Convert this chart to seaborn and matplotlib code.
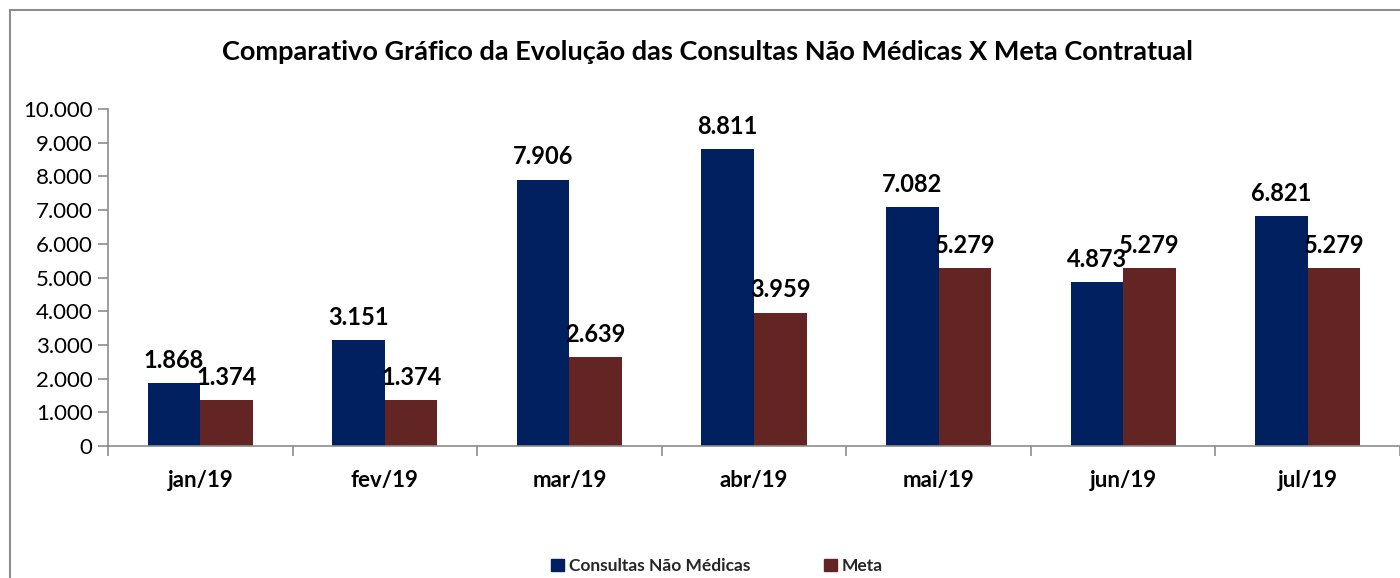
import matplotlib
matplotlib.use("Agg")
import matplotlib.pyplot as plt
import seaborn as sns
import pandas as pd
from matplotlib.ticker import FuncFormatter, FixedLocator
from matplotlib.patches import Rectangle

months = ["jan/19", "fev/19", "mar/19", "abr/19", "mai/19", "jun/19", "jul/19"]
consultas = [1868, 3151, 7906, 8811, 7082, 4873, 6821]
meta = [1374, 1374, 2639, 3959, 5279, 5279, 5279]
series_names = ["Consultas Não Médicas", "Meta"]
colors = ["#002060", "#632523"]

df = pd.DataFrame({
    "mes": months * 2,
    "valor": consultas + meta,
    "serie": [series_names[0]] * len(months) + [series_names[1]] * len(months),
})

sns.set_theme(style="white")
plt.rcParams['font.family'] = ['Lato', 'DejaVu Sans']

fig = plt.figure(figsize=(14, 5.78), dpi=100)
ax = fig.add_axes([108/1400, 1 - 446/578, 1 - 108/1400, (446 - 109)/578])

sns.barplot(data=df, x="mes", y="valor", hue="serie", order=months,
            hue_order=series_names, palette=colors, width=0.57,
            saturation=1, linewidth=0, ax=ax, legend=False)

def br(v):
    return f"{v:,.0f}".replace(",", ".")

for cont in ax.containers:
    ax.bar_label(cont, labels=[br(b.get_height()) for b in cont], padding=8,
                 fontsize=17, fontweight="bold", color="black")

ax.set_ylim(0, 10000)
ax.set_xlim(-0.5, len(months) - 0.5)
ax.yaxis.set_major_locator(FixedLocator(range(0, 10001, 1000)))
ax.yaxis.set_major_formatter(FuncFormatter(lambda v, p: br(v)))
ax.set_xlabel("")
ax.set_ylabel("")

for s in ["top", "right"]:
    ax.spines[s].set_visible(False)
for s in ["left", "bottom"]:
    ax.spines[s].set_color("#8c8c8c")
    ax.spines[s].set_linewidth(1.2)

ax.tick_params(axis="y", which="major", left=True, length=7, width=1.2,
               color="#8c8c8c", labelsize=16, pad=4, labelcolor="black")
ax.tick_params(axis="x", which="major", bottom=False, labelsize=16, pad=11,
               labelcolor="black")
for t in ax.get_xticklabels():
    t.set_fontweight("bold")
ax.set_xticks([i + 0.5 for i in range(-1, len(months))], minor=True)
ax.tick_params(axis="x", which="minor", bottom=True, length=7, width=1.2,
               color="#8c8c8c")

fig.text(708/1400, 1 - 52/578,
         "Comparativo Gráfico da Evolução das Consultas Não Médicas X Meta Contratual",
         ha="center", va="center", fontsize=19.5, fontweight="bold", color="black")

# legend
handles = [Rectangle((0, 0), 1, 1, color=c) for c in colors]
fig.legend(handles, series_names, loc="center", bbox_to_anchor=(717/1400, 1 - 566/578),
           ncol=2, frameon=False, prop={"weight": "bold", "size": 12.5},
           handlelength=0.75, handleheight=0.75, handletextpad=0.3, columnspacing=4.2)

# outer chart frame
fig.patches.append(Rectangle((10/1400, -0.05), 1.2, 1 - 10/578 + 0.05,
                             transform=fig.transFigure, fill=False,
                             edgecolor="#8c8c8c", linewidth=1.5))

fig.savefig("out.png", dpi=100)
